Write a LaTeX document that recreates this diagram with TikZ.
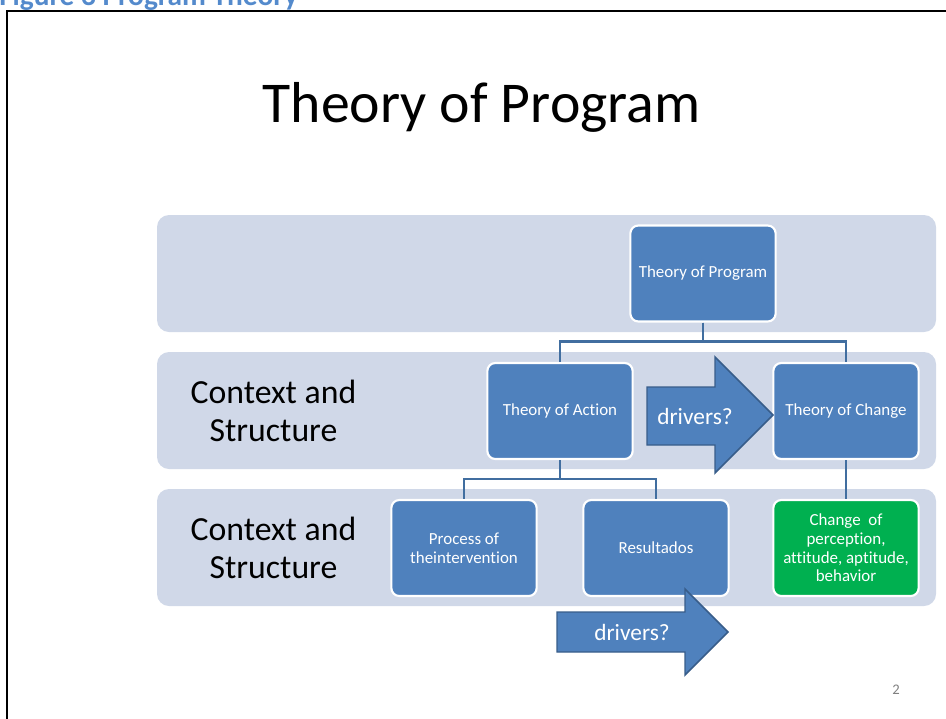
\documentclass[tikz,border=0pt]{standalone}
\usepackage{fontspec}
\setmainfont{Carlito}[Ligatures=NoCommon]
\usepackage{tikz}
\usetikzlibrary{calc}
\usetikzlibrary{positioning}
\definecolor{bandgray}{RGB}{208, 216, 232}
\definecolor{boxblue}{RGB}{79, 129, 189}
\definecolor{boxgreen}{RGB}{0, 176, 80}
\definecolor{linkblue}{RGB}{65, 110, 160}
\definecolor{arrowedge}{RGB}{56, 93, 138}
\definecolor{capblue}{RGB}{84, 138, 204}

\begin{document}
\begin{tikzpicture}[x=0.75pt, y=-0.75pt,
        band/.style={fill=bandgray, rounded corners=9pt},
        box/.style={draw=white, line width=1.6pt, fill=boxblue, rounded corners=6pt,
                    minimum width=109pt, minimum height=72pt, text=white, align=center,
                    font=\fontsize{12.7}{14}\selectfont, inner sep=1pt},
        greenbox/.style={box, fill=boxgreen},
        link/.style={draw=linkblue, line width=1.9pt},
        blockarrow/.style={fill=boxblue, draw=arrowedge, line width=1.1pt, line join=miter},
        drvtext/.style={text=white, font=\fontsize{17.5}{20}\selectfont},
        rowlabel/.style={align=center, font=\fontsize{25.3}{28.5}\selectfont}]
            \clip (0,0) rectangle (946,718);
            % caption above the slide, cut off
            \node[anchor=base west, inner sep=0pt, text=capblue, font=\fontsize{22}{26}\bfseries] (cap) at (-1,5) {Figure 3 Program Theory};
            \draw[line width=1.9pt] (7,720) -- (7,11) -- (950,11);
            \node[anchor=base, inner sep=0pt, font=\fontsize{43.3}{50}\selectfont] (title) at (481.5,122) {Theory of Program};
            % bands
            \fill[band] (157,215) rectangle (936,332);
            \fill[band] (157,352) rectangle (936,469);
            \fill[band] (157,489) rectangle (936,606);
            \node[rowlabel] (ctx1) at (273.5,411) {Context and\\Structure};
            \node[rowlabel] (ctx2) at (273.5,548) {Context and\\Structure};
            % boxes
            \node[box]      (prog) at (703,273.5) {Theory of Program};
            \node[box]      (act)  at (560,411)   {Theory of Action};
            \node[box]      (chg)  at (846,411)   {Theory of Change};
            \node[box]      (proc) at (464,548)   {Process of\\theintervention};
            \node[box]      (res)  at (656,548)   {Resultados};
            \node[greenbox] (perc) at (846,548)   {Change\ \ of\\perception,\\attitude, aptitude,\\behavior};
            % links
            \draw[link] (prog.south) -- ++(0,19) -| (act.north);
            \draw[link] (prog.south) -- ++(0,19) -| (chg.north);
            \draw[link] (act.south) -- ++(0,19) -| (proc.north);
            \draw[link] (act.south) -- ++(0,19) -| (res.north);
            \draw[link] (chg.south) -- (perc.north);
            % block arrows
            \filldraw[blockarrow] (647,387) -- (715,387) -- (715,357) -- (773,415)
                 -- (715,473) -- (715,445) -- (647,445) -- cycle;
            \node[drvtext] (drv1) at (695,416) {drivers?};
            \filldraw[blockarrow] (557,612) -- (685,612) -- (685,589) -- (728,632)
                 -- (685,675) -- (685,652) -- (557,652) -- cycle;
            \node[drvtext] (drv2) at (632,632) {drivers?};
            \node[text=gray, font=\fontsize{11}{13}\selectfont] (pgno) at (896,690) {2};
        \end{tikzpicture}
\end{document}
